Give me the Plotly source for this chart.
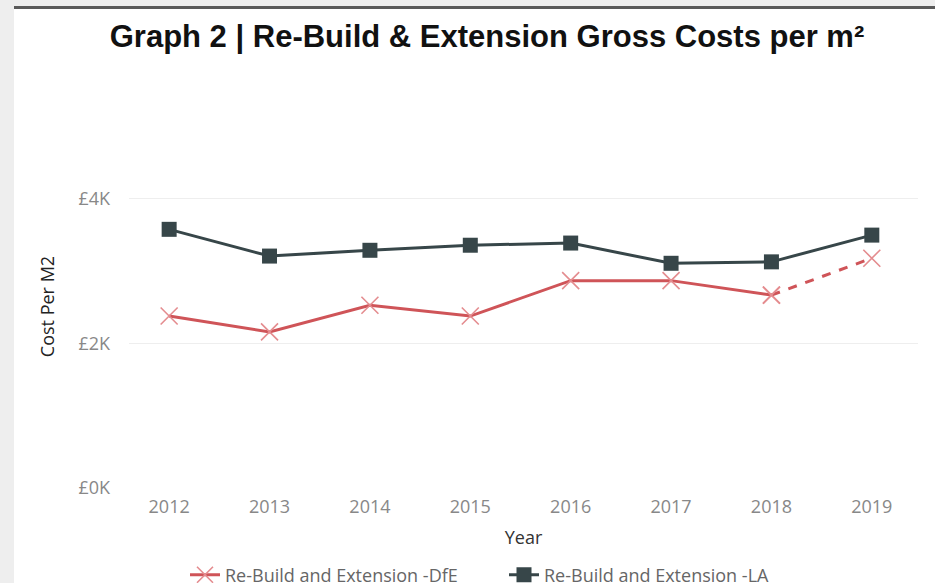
## graphe 2 : couts re-build & extension
import plotly.graph_objs as go

years = [2012, 2013, 2014, 2015, 2016, 2017, 2018, 2019]
cost_dfe = [2380, 2160, 2530, 2380, 2870, 2870, 2670, 3180]
cost_la = [3580, 3210, 3290, 3360, 3390, 3110, 3130, 3500]
y_ticks = [0, 2000, 4000]
y_labels = ["£0K", "£2K", "£4K"]

RED = "#CF5458"
DARK = "#374649"

# zone du graphe en pixels (pour placer le cadre gris)
L, R, T, B = 129, 918, 125, 488
W, H = 935, 583


def px_x(v):
    return (v - L) / (R - L)


def px_y(v):
    return (B - v) / (B - T)


fig = go.Figure()

fig.add_trace(go.Scatter(
    x=years[:-1], y=cost_dfe[:-1], mode="lines+markers",
    name="Re-Build and Extension -DfE",
    line=dict(color=RED, width=3),
    marker=dict(symbol="x-thin", size=17, color="#E48C8F",
                line=dict(color="#E48C8F", width=1.6)),
))
# dernier segment en pointillé
fig.add_trace(go.Scatter(
    x=years[-2:], y=cost_dfe[-2:], mode="lines+markers", showlegend=False,
    line=dict(color=RED, width=3, dash="dash"),
    marker=dict(symbol="x-thin", size=17, color="#E48C8F",
                line=dict(color="#E48C8F", width=1.6)),
))
fig.add_trace(go.Scatter(
    x=years, y=cost_la, mode="lines+markers",
    name="Re-Build and Extension -LA",
    line=dict(color=DARK, width=3),
    marker=dict(symbol="square", size=15, color=DARK),
))

# cadre gris façon capture d'écran
fig.add_shape(type="rect", xref="paper", yref="paper", layer="below",
              x0=px_x(-5), x1=px_x(14), y0=px_y(H + 5), y1=px_y(-5),
              fillcolor="#EEEEEE", line_width=0)
fig.add_shape(type="rect", xref="paper", yref="paper", layer="below",
              x0=px_x(14), x1=px_x(W + 5), y0=px_y(6), y1=px_y(-5),
              fillcolor="#EEEEEE", line_width=0)
fig.add_shape(type="rect", xref="paper", yref="paper", layer="below",
              x0=px_x(14), x1=px_x(W + 5), y0=px_y(9), y1=px_y(6),
              fillcolor="#5A5A5A", line_width=0)

fig.update_layout(
    width=W, height=H,
    margin=dict(l=L, r=W - R, t=T, b=H - B, autoexpand=False),
    paper_bgcolor="white", plot_bgcolor="white",
    font=dict(family="Open Sans", color="#777777"),
    title=dict(text="<b>Graph 2 | Re-Build & Extension Gross Costs per m²</b>",
               font=dict(family="Liberation Sans", size=31, color="#111111"),
               x=487 / W, xanchor="center", xref="container",
               y=1 - 36 / H, yanchor="middle", yref="container"),
    legend=dict(orientation="h", x=px_x(185), xanchor="left",
                y=px_y(575), yanchor="middle",
                font=dict(size=18, color="#666666"), itemwidth=30,
                entrywidth=274),
    showlegend=True,
)
fig.update_xaxes(
    range=[2011.6, 2019.46], tickvals=years, showgrid=False, zeroline=False,
    tickfont=dict(size=18, color="#888888"), ticklabelstandoff=6,
    title=dict(text="Year", font=dict(size=18, color="#333333"), standoff=14),
)
fig.update_yaxes(
    range=[0, 5024], tickvals=y_ticks, ticktext=y_labels,
    showgrid=True, gridcolor="#EEEEEE", gridwidth=1, zeroline=False,
    tickfont=dict(size=18, color="#888888"), ticklabelstandoff=18,
    title=dict(text="Cost Per M2", font=dict(size=18, color="#222222"), standoff=19),
)

# pas de marge autour de la page
fig.write_html("out.html", config={"displayModeBar": False},
               post_script="document.body.style.margin='0';")
